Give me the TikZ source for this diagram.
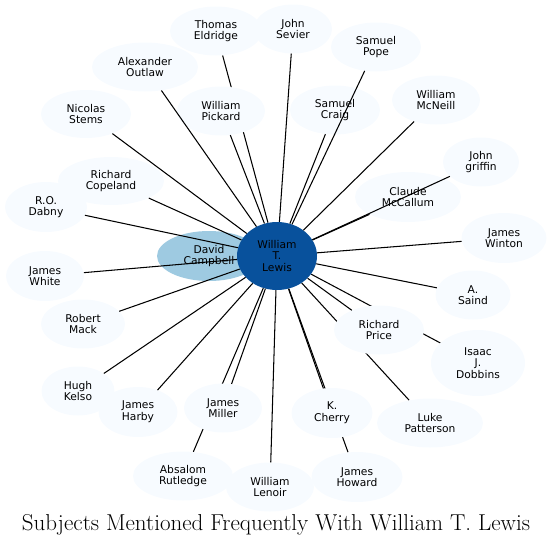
\documentclass[tikz,border=0pt]{standalone}
\usepackage{fontspec}
\usetikzlibrary{shapes.geometric}
\newfontfamily\labfont{DejaVu Sans}
\definecolor{leaffill}{HTML}{F7FBFF}
\definecolor{midfill}{HTML}{9ECAE1}
\definecolor{hubfill}{HTML}{08519C}
\pgfdeclarelayer{bg}
\pgfsetlayers{bg,main}
\tikzset{
  leaf/.style={ellipse, fill=leaffill, inner sep=0pt, align=center,
    font=\labfont\fontsize{10.7}{11.6}\selectfont, text=black},
  conn/.style={draw=black, line width=1.05pt},
}
\begin{document}
\begin{tikzpicture}[x=1pt,y=-1pt]
\useasboundingbox (0,0) rectangle (552,547);
% nodes
\node[leaf, fill=midfill, minimum width=104pt, minimum height=50pt] (campbell) at (209,256) {David\\Campbell};
\node[leaf, fill=hubfill, minimum width=80pt, minimum height=68pt] (lewis) at (277,256) {William\\T.\\Lewis};
\node[leaf, minimum width=92pt, minimum height=49pt] (eldridge) at (216,31) {Thomas\\Eldridge};
\node[leaf, minimum width=78pt, minimum height=49pt] (sevier) at (293,29) {John\\Sevier};
\node[leaf, minimum width=90pt, minimum height=49pt] (pope) at (376,47) {Samuel\\Pope};
\node[leaf, minimum width=88pt, minimum height=49pt] (mcneill) at (436,100) {William\\McNeill};
\node[leaf, minimum width=76pt, minimum height=49pt] (griffin) at (481,162) {John\\griffin};
\node[leaf, minimum width=90pt, minimum height=49pt] (craig) at (335,110) {Samuel\\Craig};
\node[leaf, minimum width=106pt, minimum height=50pt] (mccallum) at (408,197) {Claude\\McCallum};
\node[leaf, minimum width=85pt, minimum height=50pt] (winton) at (504,238) {James\\Winton};
\node[leaf, minimum width=75pt, minimum height=49pt] (saind) at (473,295) {A.\\Saind};
\node[leaf, minimum width=90pt, minimum height=49pt] (price) at (379,330) {Richard\\Price};
\node[leaf, minimum width=94pt, minimum height=66pt] (dobbins) at (478,363) {Isaac\\J.\\Dobbins};
\node[leaf, minimum width=106pt, minimum height=49pt] (patterson) at (430,423) {Luke\\Patterson};
\node[leaf, minimum width=81pt, minimum height=50pt] (cherry) at (332,413) {K.\\Cherry};
\node[leaf, minimum width=91pt, minimum height=50pt] (howard) at (357,477) {James\\Howard};
\node[leaf, minimum width=88pt, minimum height=49pt] (lenoir) at (270,487) {William\\Lenoir};
\node[leaf, minimum width=100pt, minimum height=49pt] (rutledge) at (183,476) {Absalom\\Rutledge};
\node[leaf, minimum width=78pt, minimum height=49pt] (miller) at (223,408) {James\\Miller};
\node[leaf, minimum width=79pt, minimum height=50pt] (harby) at (138,412) {James\\Harby};
\node[leaf, minimum width=73pt, minimum height=49pt] (kelso) at (78,391) {Hugh\\Kelso};
\node[leaf, minimum width=84pt, minimum height=49pt] (mack) at (83,324) {Robert\\Mack};
\node[leaf, minimum width=78pt, minimum height=50pt] (white) at (45,276) {James\\White};
\node[leaf, minimum width=82pt, minimum height=50pt] (dabny) at (46,207) {R.O.\\Dabny};
\node[leaf, minimum width=106pt, minimum height=48pt] (copeland) at (111,181) {Richard\\Copeland};
\node[leaf, minimum width=90pt, minimum height=48pt] (stems) at (86,114) {Nicolas\\Stems};
\node[leaf, minimum width=106pt, minimum height=49pt] (outlaw) at (145,67) {Alexander\\Outlaw};
\node[leaf, minimum width=88pt, minimum height=49pt] (pickard) at (221,111) {William\\Pickard};
% title
\node[font=\fontsize{23}{26}\selectfont] (title) at (276,525) {Subjects Mentioned Frequently With William T. Lewis};
% connectors passing beneath other nodes
\begin{pgfonlayer}{bg}
\foreach \n in {eldridge,dobbins,patterson,howard,rutledge}
  \draw[conn] (lewis) -- (\n);
\end{pgfonlayer}
% connectors drawn over nodes
\foreach \n in {sevier,pope,mcneill,griffin,craig,mccallum,winton,saind,price,cherry,lenoir,miller,harby,kelso,mack,white,dabny,copeland,stems,outlaw,pickard}
  \draw[conn] (lewis) -- (\n);
\end{tikzpicture}
\end{document}
